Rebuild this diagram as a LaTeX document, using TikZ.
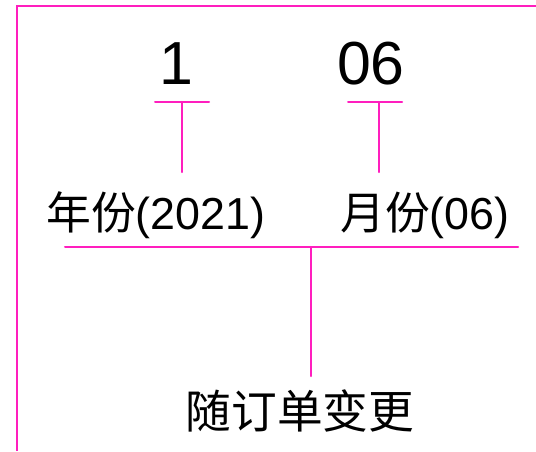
\documentclass[tikz,border=0pt]{standalone}
\usepackage{fontspec, tikz, tkz-euclide}
\setmainfont{Liberation Sans}
\newfontfamily\cjk{Noto Sans CJK SC}
\definecolor{linepink}{RGB}{255,30,190}
\tikzset{pinkline/.style={draw=linepink, line width=1.15pt}}

\begin{document}
\begin{tikzpicture}
    \useasboundingbox (0,0) rectangle (10.72,9.02);
    \tkzDefPoints{0.34/8.90/F, 10.72/8.90/R, 0.34/0/B}
    \tkzDefPoints{3.10/6.98/Ya, 4.18/6.98/Yb, 3.64/6.98/Yc, 3.64/5.58/Yd}
    \tkzDefPoints{6.96/6.98/Ma, 8.04/6.98/Mb, 7.58/6.98/Mc, 7.58/5.58/Md}
    \tkzDefPoints{1.30/4.08/La, 10.36/4.08/Lb, 6.22/4.08/Lc, 6.22/1.50/Ld}
    \draw[pinkline] (R) -- (F) -- (B);
    \tkzDrawSegments[pinkline](Ya,Yb Yc,Yd Ma,Mb Mc,Md La,Lb Lc,Ld)
    \node[anchor=base, font=\fontsize{34.6}{40}\selectfont] (yval) at (3.52,7.34) {1};
    \node[anchor=base, font=\fontsize{34.6}{40}\selectfont] (mval) at (7.42,7.34) {06};
    \node[anchor=base west, inner sep=0pt, font=\fontsize{25.5}{30}\selectfont] (year) at (0.92,4.44) {{\cjk 年份}(2021)};
    \node[anchor=base east, inner sep=0pt, font=\fontsize{25.5}{30}\selectfont] (month) at (10.20,4.44) {{\cjk 月份}(06)};
    \node[font=\fontsize{26}{30}\selectfont\cjk] (order) at (6.00,0.80) {随订单变更};
\end{tikzpicture}
\end{document}
